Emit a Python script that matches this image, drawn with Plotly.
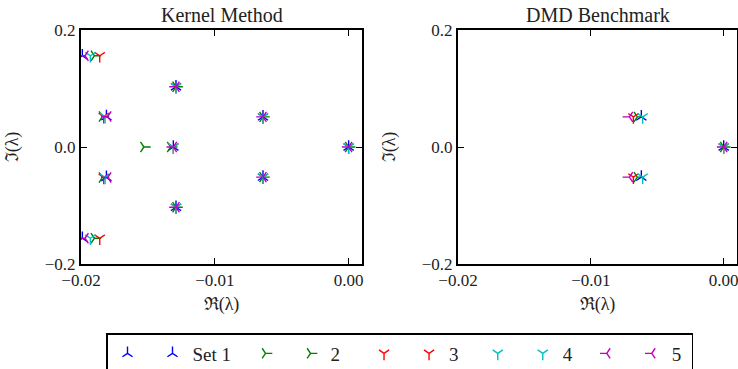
import plotly.graph_objects as go

# ---------------- data ----------------
set_names = ["Set 1", "2", "3", "4", "5"]
set_colors = ["#0000FF", "#008000", "#FF0000", "#00BFBF", "#BF00BF"]
set_symbols = ["y-up", "y-right", "y-down", "y-down", "y-left"]
legend_pad = ["  ", "    ", "   ", "  ", " "]

# Kernel Method eigenvalues (real, imaginary) per set
kernel_re = [
    [0.0, -0.0064, -0.0064, -0.0129, -0.0129, -0.0131, -0.0181, -0.0181, -0.0199, -0.0199],
    [0.0, -0.0064, -0.0064, -0.0129, -0.0129, -0.0133, -0.0153, -0.0184, -0.0184, -0.0190, -0.0190],
    [0.0, -0.0064, -0.0064, -0.0129, -0.0129, -0.0131, -0.0183, -0.0183, -0.0186, -0.0186],
    [0.0, -0.0064, -0.0064, -0.0129, -0.0129, -0.0131, -0.0182, -0.0182, -0.0193, -0.0193],
    [0.0, -0.0064, -0.0064, -0.0129, -0.0129, -0.0131, -0.0180, -0.0180, -0.0197, -0.0197],
]
kernel_im = [
    [0.0, 0.0515, -0.0515, 0.1030, -0.1030, 0.0, 0.052, -0.052, 0.156, -0.156],
    [0.0, 0.0515, -0.0515, 0.1030, -0.1030, 0.0, 0.0, 0.052, -0.052, 0.156, -0.156],
    [0.0, 0.0515, -0.0515, 0.1030, -0.1030, 0.0, 0.052, -0.052, 0.156, -0.156],
    [0.0, 0.0515, -0.0515, 0.1030, -0.1030, 0.0, 0.052, -0.052, 0.156, -0.156],
    [0.0, 0.0515, -0.0515, 0.1030, -0.1030, 0.0, 0.052, -0.052, 0.156, -0.156],
]

# DMD Benchmark eigenvalues per set
dmd_re = [
    [0.0, -0.0062, -0.0062],
    [0.0, -0.0065, -0.0065],
    [0.0, -0.0068, -0.0068],
    [0.0, -0.0061, -0.0061],
    [0.0, -0.0071, -0.0071],
]
dmd_im = [
    [0.0, 0.0515, -0.0515],
    [0.0, 0.0515, -0.0515],
    [0.0, 0.0515, -0.0515],
    [0.0, 0.0515, -0.0515],
    [0.0, 0.0515, -0.0515],
]

x_ticks = [-0.02, -0.01, 0.0]
y_ticks = [-0.2, 0.0, 0.2]

# ---------------- figure ----------------
W, H = 738, 369
FONT = "Liberation Serif"
fig = go.Figure()

for i, name in enumerate(set_names):
    mk = dict(symbol=set_symbols[i], size=8.5, color=set_colors[i],
              line=dict(color=set_colors[i], width=1.4))
    # legend-only helper marker (matplotlib shows two markers per entry)
    fig.add_trace(go.Scatter(x=[None], y=[None], mode="markers", marker=mk,
                             name="", legendgroup=name, showlegend=True,
                             xaxis="x", yaxis="y"))
    fig.add_trace(go.Scatter(x=kernel_re[i], y=kernel_im[i], mode="markers",
                             marker=mk, name=name + legend_pad[i], legendgroup=name,
                             showlegend=True, xaxis="x", yaxis="y"))
    fig.add_trace(go.Scatter(x=dmd_re[i], y=dmd_im[i], mode="markers",
                             marker=mk, name=name, legendgroup=name,
                             showlegend=False, xaxis="x2", yaxis="y2"))

ax_common = dict(showline=True, linecolor="black", linewidth=2, mirror="allticks",
                 ticks="inside", ticklen=6, tickwidth=1, tickcolor="black",
                 showgrid=False, zeroline=False, automargin=False,
                 ticklabeloverflow="allow",
                 tickfont=dict(family=FONT, size=17, color="#222"))

x1_dom = [81 / W, 362 / W]
x2_dom = [458 / W, 737 / W]
y_dom = [1 - 264 / H, 1 - 30 / H]

xt = dict(text="ℜ(λ)", standoff=8, font=dict(family=FONT, size=18))
yt = dict(text="ℑ(λ)", standoff=21, font=dict(family=FONT, size=18))

fig.update_layout(
    width=W, height=H,
    margin=dict(l=0, r=0, t=0, b=0, autoexpand=False),
    plot_bgcolor="white", paper_bgcolor="white",
    font=dict(family=FONT, size=17, color="#222"),
    xaxis=dict(domain=x1_dom, range=[-0.02, 0.001], tickvals=x_ticks,
               tickformat=".2f", anchor="y", title=xt, **ax_common),
    yaxis=dict(domain=y_dom, range=[-0.2, 0.2], tickvals=y_ticks,
               tickformat=".1f", anchor="x", title=yt, **ax_common),
    xaxis2=dict(domain=x2_dom, range=[-0.02, 0.001], tickvals=x_ticks,
                tickformat=".2f", anchor="y2", title=xt, **ax_common),
    yaxis2=dict(domain=y_dom, range=[-0.2, 0.2], tickvals=y_ticks,
                tickformat=".1f", anchor="x2", title=yt, **ax_common),
    legend=dict(orientation="h", x=106 / W, y=1 - 333 / H, xanchor="left",
                yanchor="top", bordercolor="black", borderwidth=1.5,
                bgcolor="white", font=dict(family=FONT, size=19, color="#222"),
                itemclick=False, traceorder="normal"),
    showlegend=True,
)

for dom, txt in [(x1_dom, "Kernel Method"), (x2_dom, "DMD Benchmark")]:
    fig.add_annotation(x=(dom[0] + dom[1]) / 2, y=y_dom[1], xref="paper", yref="paper",
                       text=txt, showarrow=False, xanchor="center", yanchor="bottom",
                       yshift=2, font=dict(family=FONT, size=20, color="#222"))

fig.write_html("out.html", config={"displayModeBar": False},
               post_script="document.body.style.margin='0';document.body.style.overflow='hidden';")
